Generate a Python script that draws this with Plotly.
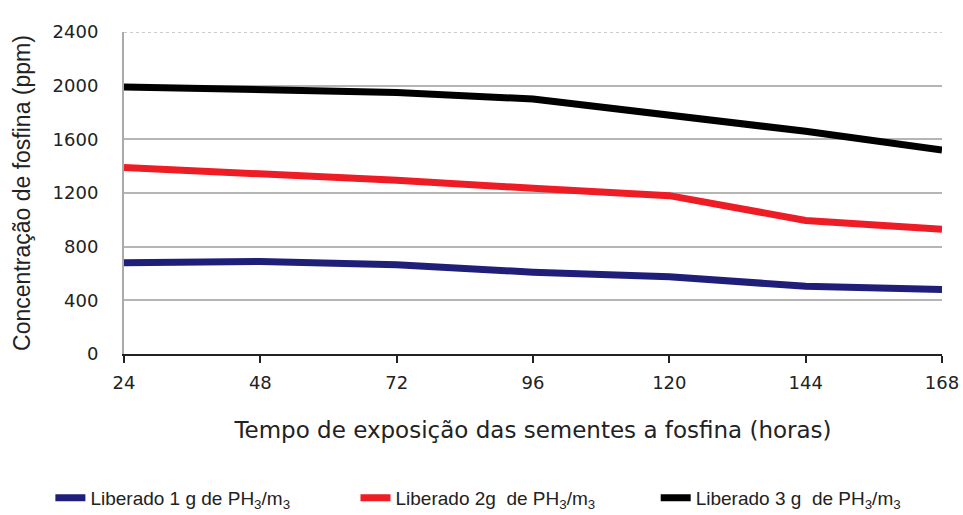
import plotly.graph_objects as go

hours = [24, 48, 72, 96, 120, 144, 168]
lib_1g = [680, 690, 665, 610, 575, 505, 480]
lib_2g = [1390, 1345, 1295, 1235, 1180, 995, 930]
lib_3g = [1990, 1975, 1950, 1900, 1775, 1660, 1520]
names = ["Liberado 1 g de PH<sub>3</sub>/m<sub>3</sub>",
         "Liberado 2g  de PH<sub>3</sub>/m<sub>3</sub>",
         "Liberado 3 g  de PH<sub>3</sub>/m<sub>3</sub>"]
colors = ["#1f1f7a", "#ee1c24", "#000000"]
y_ticks = [0, 400, 800, 1200, 1600, 2000, 2400]

legend_ids = ["legend", "legend2", "legend3"]
legend_x = [-0.09, 0.283, 0.65]

fig = go.Figure()
for vals, nm, c, lg in zip([lib_1g, lib_2g, lib_3g], names, colors, legend_ids):
    fig.add_trace(go.Scatter(x=hours, y=vals, mode="lines", name=nm, legend=lg,
                             line=dict(color=c, width=7)))

fig.add_shape(type="line", xref="paper", yref="y", x0=0, x1=1, y0=2400, y1=2400,
              line=dict(color="white", width=3), layer="above")
fig.add_shape(type="line", xref="paper", yref="y", x0=0, x1=1, y0=2400, y1=2400,
              line=dict(color="#999999", width=1.2, dash="dot"), layer="above")

legend_style = dict(orientation="h", xanchor="left", y=-0.447, yanchor="middle",
                    font=dict(size=19, family="Liberation Sans, Arial, sans-serif"),
                    bgcolor="rgba(0,0,0,0)")

fig.update_layout(
    width=963, height=515,
    margin=dict(l=124, r=21, t=32, b=161, autoexpand=False),
    paper_bgcolor="white", plot_bgcolor="white",
    font=dict(family="DejaVu Sans, sans-serif", size=18, color="#222"),
    xaxis=dict(range=[24, 168], tickvals=hours, showgrid=False, showline=True,
               linecolor="#222", linewidth=2, ticks="outside", ticklen=7,
               tickcolor="#222", tickwidth=2, zeroline=False, ticklabelstandoff=4,
               title=dict(text="Tempo de exposição das sementes a fosfina (horas)",
                          font=dict(size=23), standoff=30)),
    yaxis=dict(range=[0, 2400], tickvals=y_ticks, showgrid=True, gridcolor="#b5b5b5",
               gridwidth=1.5, showline=True, linecolor="#aaaaaa", linewidth=2,
               zeroline=False, ticks="", ticklen=0, ticklabelstandoff=20,
               title=dict(text="Concentração de fosfina (ppm)",
                          font=dict(size=23, family="Liberation Sans, Arial, sans-serif"),
                          standoff=16)),
    legend=dict(x=legend_x[0], **legend_style),
    legend2=dict(x=legend_x[1], **legend_style),
    legend3=dict(x=legend_x[2], **legend_style),
    showlegend=True,
)

fig.write_html("out.html", config={"displayModeBar": False})

# remove the browser's default page margin so the figure fills the window
with open("out.html", encoding="utf-8") as f:
    html = f.read()
html = html.replace("<head>", "<head><style>html,body{margin:0;padding:0;overflow:hidden}</style>", 1)
with open("out.html", "w", encoding="utf-8") as f:
    f.write(html)
